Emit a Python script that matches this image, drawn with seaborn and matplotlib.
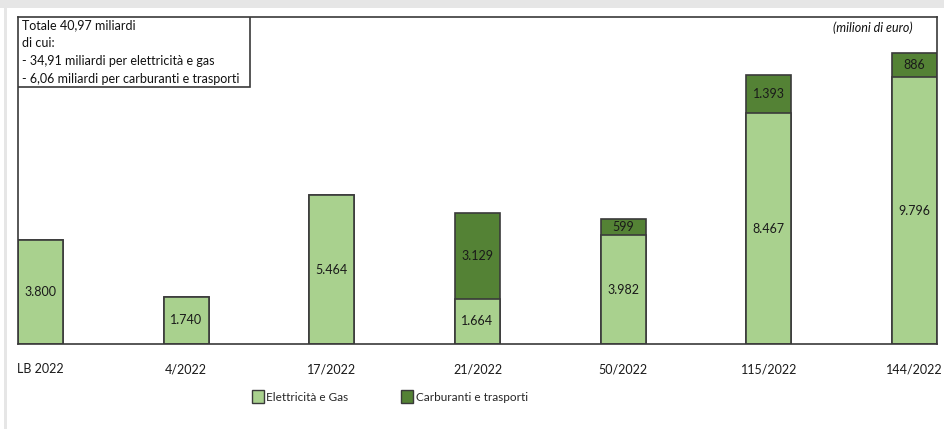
import matplotlib
matplotlib.use("Agg")
import matplotlib.pyplot as plt
from matplotlib.patches import Patch, Rectangle
import seaborn as sns
import pandas as pd

# valori in milioni di euro
provvedimenti = ["LB 2022", "4/2022", "17/2022", "21/2022", "50/2022", "115/2022", "144/2022"]
elettricita_gas = [3800, 1740, 5464, 1664, 3982, 8467, 9796]
carburanti_trasporti = [0, 0, 0, 3129, 599, 1393, 886]

box_lines = [
    "Totale 40,97 miliardi",
    "di cui:",
    "- 34,91 miliardi per elettricità e gas",
    "- 6,06 miliardi per carburanti e trasporti",
]
unit_label = "(milioni di euro)"
legend_labels = ["Elettricità e Gas", "Carburanti e trasporti"]

light_green = "#a9d18e"
dark_green = "#548235"
edge = "#3a3a3a"

sns.set_style("white")
plt.rcParams["font.family"] = ["Lato", "DejaVu Sans"]

df = pd.DataFrame({
    "prov": provvedimenti,
    "eg": elettricita_gas,
    "ct": carburanti_trasporti,
})
df["totale"] = df["eg"] + df["ct"]

fig = plt.figure(figsize=(9.44, 4.29), dpi=100)
ax = fig.add_axes([18 / 944, 1 - 344 / 429, (937 - 18) / 944, (344 - 17) / 429])

# stacked: disegno prima il totale (scuro), poi la parte chiara sopra
sns.barplot(data=df, x="prov", y="totale", color=dark_green, saturation=1,
            width=0.31, edgecolor=edge, linewidth=1.2, ax=ax)
sns.barplot(data=df, x="prov", y="eg", color=light_green, saturation=1,
            width=0.31, edgecolor=edge, linewidth=1.2, ax=ax)

def fmt(v):
    return f"{v:,}".replace(",", ".")

for i, row in df.iterrows():
    ax.text(i, row["eg"] / 2, fmt(row["eg"]), ha="center", va="center",
            fontsize=9, color="#1a1a1a")
    if row["ct"] > 0:
        ax.text(i, row["eg"] + row["ct"] / 2, fmt(row["ct"]), ha="center",
                va="center", fontsize=9, color="#1a1a1a")

ax.set_xlim(-0.155, len(provvedimenti) - 1 + 0.155)
ax.set_ylim(0, 12000)
ax.set_yticks([])
ax.set_xlabel("")
ax.set_ylabel("")
ax.tick_params(axis="x", length=0, pad=14, labelsize=9, labelcolor="#1a1a1a")
for s in ax.spines.values():
    s.set_color(edge)
    s.set_linewidth(1.2)

# riquadro con i totali, appoggiato all'angolo in alto a sinistra
box_w = 232 / 919
box_h = 70 / 327
ax.add_patch(Rectangle((0, 1 - box_h), box_w, box_h, transform=ax.transAxes,
                       facecolor="white", edgecolor=edge, linewidth=1.2, zorder=5))
ax.text(0.004, 0.993, "\n".join(box_lines), transform=ax.transAxes, ha="left", va="top",
        fontsize=9, linespacing=1.6, color="#111111", zorder=6)

ax.text(0.973, 0.985, unit_label, transform=ax.transAxes, ha="right", va="top",
        fontsize=9, style="italic", color="#111111")

handles = [Patch(facecolor=light_green, edgecolor=edge, linewidth=1),
           Patch(facecolor=dark_green, edgecolor=edge, linewidth=1)]
fig.legend(handles, legend_labels, loc="center", bbox_to_anchor=(0.413, 0.075),
           ncol=2, frameon=False, fontsize=8.5, handlelength=1.0, handleheight=1.3,
           handletextpad=0.2, columnspacing=4.5)

# cornice grigia dello screenshot
fig.patches.append(Rectangle((0, 1 - 8 / 429), 1, 8 / 429, transform=fig.transFigure,
                             facecolor="#e6e6e6", edgecolor="none", zorder=-1))
fig.patches.append(Rectangle((4 / 944, 0), 3 / 944, 1 - 8 / 429, transform=fig.transFigure,
                             facecolor="#e6e6e6", edgecolor="none", zorder=-1))

fig.savefig("out.png", dpi=100)
